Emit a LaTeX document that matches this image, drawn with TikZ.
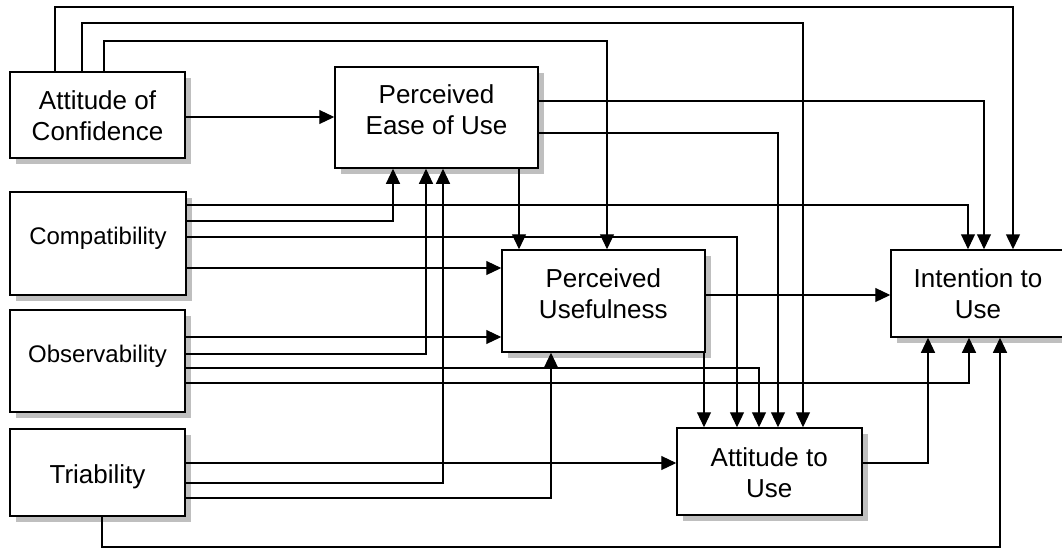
\documentclass[tikz,border=0pt]{standalone}
\usepackage{fontspec}
\setmainfont{Liberation Sans}
\usetikzlibrary{arrows.meta,shadows}
\tikzset{
  box/.style={draw, line width=1.5pt, fill=white, rectangle, inner sep=0pt,
    drop shadow={shadow xshift=5.5pt, shadow yshift=-5.5pt, fill=black!25, opacity=1}},
  lbl/.style={font=\fontsize{26}{31}\selectfont, align=center, inner sep=0pt},
  slbl/.style={font=\fontsize{24}{29}\selectfont, align=center, inner sep=0pt},
  conn/.style={line width=1.1pt},
  arr/.style={conn, -{Triangle[length=15pt,width=14pt]}},
}
\begin{document}
\begin{tikzpicture}[x=1pt,y=-1pt]
\useasboundingbox (0,0) rectangle (1062,550);
\clip (0,0) rectangle (1062,550);
% boxes
\node[box, minimum width=175pt, minimum height=86pt]  (ac)   at (97.5,115)   {};
\node[box, minimum width=176pt, minimum height=103pt] (comp) at (98,243.5)   {};
\node[box, minimum width=175pt, minimum height=102pt] (obs)  at (97.5,361)   {};
\node[box, minimum width=175pt, minimum height=87pt]  (tri)  at (97.5,472.5) {};
\node[box, minimum width=203pt, minimum height=101pt] (peu)  at (436.5,117.5) {};
\node[box, minimum width=203pt, minimum height=102pt] (pu)   at (603.5,301)  {};
\node[box, minimum width=175pt, minimum height=87pt]  (iu)   at (978.5,293.5) {};
\node[box, minimum width=185pt, minimum height=87pt]  (au)   at (769.5,471.5) {};
% labels
\node[lbl] (acT)   at (97.5,116)  {Attitude of\\Confidence};
\node[slbl, anchor=base] (compT) at (98,244)  {Compatibility};
\node[slbl, anchor=base] (obsT)  at (97.5,362) {Observability};
\node[lbl, anchor=base] (triT)  at (97.5,483) {Triability};
\node[lbl] (peuT)  at (436.5,110) {Perceived\\Ease of Use};
\node[lbl] (puT)   at (603.3,294) {Perceived\\Usefulness};
\node[lbl] (iuT)   at (978,294)   {Intention to\\Use};
\node[lbl] (auT)   at (769.2,473) {Attitude to\\Use};
% connectors from Attitude of Confidence
\draw[arr, line width=1.5pt] (ac.north -| 55,0) |- (1013,7) -- (iu.north -| 1013,0);
\draw[arr] (ac.north -| 82,0) |- (803,23) -- (au.north -| 803,0);
\draw[arr] (ac.north -| 104,0) |- (607,41) -- (pu.north -| 607,0);
\draw[arr] (ac.east |- 0,117) -- (peu.west |- 0,117);
% from Perceived Ease of Use
\draw[arr] (peu.east |- 0,101) -| (iu.north -| 984,0);
\draw[arr] (peu.east |- 0,133) -| (au.north -| 778,0);
\draw[arr] (peu.south -| 519,0) -- (pu.north -| 519,0);
% from Compatibility
\draw[arr] (comp.east |- 0,205) -| (iu.north -| 968,0);
\draw[arr] (comp.east |- 0,221) -| (peu.south -| 393,0);
\draw[arr] (comp.east |- 0,237) -| (au.north -| 737,0);
\draw[arr] (comp.east |- 0,268) -- (pu.west |- 0,268);
% from Observability
\draw[arr] (obs.east |- 0,337) -- (pu.west |- 0,337);
\draw[arr] (obs.east |- 0,354) -| (peu.south -| 426,0);
\draw[arr] (obs.east |- 0,368) -| (au.north -| 759,0);
\draw[arr] (obs.east |- 0,383) -| (iu.south -| 969,0);
% from Triability
\draw[arr] (tri.east |- 0,463) -- (au.west |- 0,463);
\draw[arr] (tri.east |- 0,483) -| (peu.south -| 443,0);
\draw[arr] (tri.east |- 0,498) -| (pu.south -| 551,0);
\draw[arr] (tri.south -| 102,0) |- (1000,547) -- (iu.south -| 1000,0);
% from Perceived Usefulness
\draw[arr] (pu.east |- 0,295) -- (iu.west |- 0,295);
\draw[arr] (pu.south -| 704,0) -- (au.north -| 704,0);
% from Attitude to Use
\draw[arr] (au.east |- 0,463) -| (iu.south -| 928,0);
\end{tikzpicture}
\end{document}
